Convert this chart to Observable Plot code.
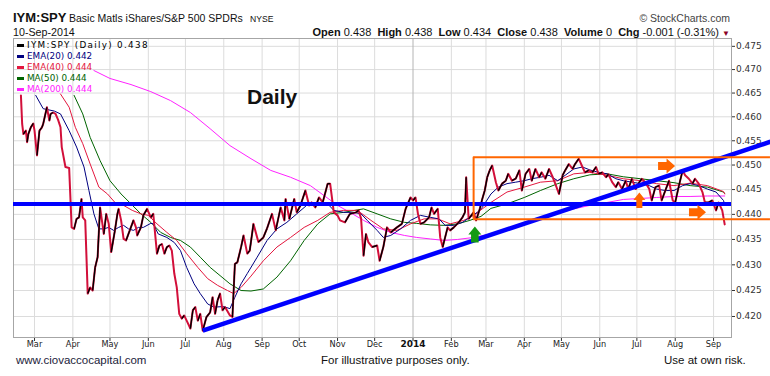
<!DOCTYPE html>
<html><head><meta charset="utf-8">
<script src="https://cdn.jsdelivr.net/npm/d3@7"></script>
<script src="https://cdn.jsdelivr.net/npm/@observablehq/plot@0.6"></script>
<style>
body{margin:0;background:#fff}
#wrap{position:relative;width:770px;height:376px;overflow:hidden;background:#fff}
#wrap svg{position:absolute;left:0;top:0;z-index:1}
.t{position:absolute;white-space:nowrap;line-height:1;font-family:"Liberation Sans",Arial,sans-serif;color:#111;z-index:2}
.lg{position:absolute;white-space:nowrap;line-height:1;font-family:"DejaVu Sans",sans-serif;font-size:8.8px;z-index:2}
.sw{position:absolute;width:7px;height:3px;z-index:2}
</style></head>
<body><div id="wrap"></div>
<script>
// ---------- data ----------
const xStart = "2013-02-12", xEnd = "2014-09-15T12:00:00Z";
const yDomain = [0.4160, 0.4767];
const yTicks = [0.420,0.425,0.430,0.435,0.440,0.445,0.450,0.455,0.460,0.465,0.470,0.475];
const monthTicks = ["2013-03-01","2013-04-01","2013-05-01","2013-06-01","2013-07-01","2013-08-01","2013-09-01","2013-10-01","2013-11-01","2013-12-01","2014-01-01","2014-02-01","2014-03-01","2014-04-01","2014-05-01","2014-06-01","2014-07-01","2014-08-01","2014-09-01"];
const monthLabels = ["Mar","Apr","May","Jun","Jul","Aug","Sep","Oct","Nov","Dec","2014","Feb","Mar","Apr","May","Jun","Jul","Aug","Sep"];

const price = [
["2013-02-18",.4645],["2013-02-19",.4585],["2013-02-20",.4564],["2013-02-22",.4571],["2013-02-23",.4547],["2013-02-24",.4564],["2013-02-26",.4578],["2013-02-28",.4586],["2013-03-01",.4571],["2013-03-03",.4520],["2013-03-05",.4571],["2013-03-07",.4578],["2013-03-08",.4585],["2013-03-11",.4620],["2013-03-13",.4592],["2013-03-14",.4606],["2013-03-16",.4609],["2013-03-18",.4606],["2013-03-20",.4594],["2013-03-22",.4578],["2013-03-23",.4537],["2013-03-26",.4496],["2013-03-29",.4494],["2013-03-30",.4434],["2013-03-31",.4374],
["2013-04-02",.4371],["2013-04-04",.4391],["2013-04-06",.4394],["2013-04-08",.4431],["2013-04-09",.4394],["2013-04-11",.4388],["2013-04-13",.4244],["2013-04-15",.4256],["2013-04-17",.4250],["2013-04-19",.4295],["2013-04-21",.4315],["2013-04-23",.4414],["2013-04-26",.4361],["2013-04-28",.4401],["2013-04-30",.4381],
["2013-05-02",.4325],["2013-05-05",.4368],["2013-05-07",.4401],["2013-05-08",.4411],["2013-05-10",.4388],["2013-05-12",.4351],["2013-05-14",.4348],["2013-05-17",.4368],["2013-05-20",.4388],["2013-05-22",.4374],["2013-05-23",.4358],["2013-05-26",.4374],["2013-05-28",.4398],["2013-05-31",.4411],
["2013-06-03",.4394],["2013-06-05",.4401],["2013-06-07",.4348],["2013-06-08",.4322],["2013-06-10",.4338],["2013-06-12",.4341],["2013-06-14",.4322],["2013-06-16",.4335],["2013-06-18",.4338],["2013-06-20",.4328],["2013-06-22",.4283],["2013-06-24",.4256],["2013-06-26",.4205],["2013-06-28",.4196],["2013-06-30",.4202],
["2013-07-02",.4192],["2013-07-05",.4177],["2013-07-07",.4212],["2013-07-09",.4218],["2013-07-11",.4192],["2013-07-13",.4205],["2013-07-15",.4173],["2013-07-18",.4199],["2013-07-21",.4208],["2013-07-23",.4237],["2013-07-25",.4205],["2013-07-27",.4231],["2013-07-29",.4244],["2013-07-31",.4212],
["2013-08-02",.4218],["2013-08-06",.4202],["2013-08-08",.4199],["2013-08-10",.4302],["2013-08-12",.4305],["2013-08-15",.4335],["2013-08-17",.4358],["2013-08-20",.4322],["2013-08-22",.4328],["2013-08-25",.4381],["2013-08-29",.4345],
["2013-09-02",.4354],["2013-09-05",.4372],["2013-09-09",.4401],["2013-09-12",.4368],["2013-09-16",.4414],["2013-09-19",.4388],["2013-09-20",.4431],["2013-09-23",.4391],["2013-09-27",.4431],["2013-09-29",.4404],
["2013-10-02",.4418],["2013-10-06",.4448],["2013-10-09",.4418],["2013-10-11",.4424],["2013-10-14",.4414],["2013-10-17",.4434],["2013-10-20",.4424],["2013-10-24",.4462],["2013-10-26",.4462],["2013-10-29",.4404],
["2013-11-01",.4398],["2013-11-03",.4388],["2013-11-07",.4384],["2013-11-11",.4401],["2013-11-16",.4404],["2013-11-18",.4408],["2013-11-20",.4392],["2013-11-22",.4318],["2013-11-24",.4361],["2013-11-26",.4344],["2013-11-29",.4335],
["2013-12-03",.4338],["2013-12-05",.4308],["2013-12-08",.4335],["2013-12-11",.4374],["2013-12-14",.4364],["2013-12-16",.4368],["2013-12-19",.4374],["2013-12-23",.4381],["2013-12-26",.4411],["2013-12-30",.4434],
["2014-01-01",.4428],["2014-01-03",.4434],["2014-01-05",.4401],["2014-01-07",.4381],["2014-01-10",.4384],["2014-01-14",.4394],["2014-01-16",.4414],["2014-01-18",.4401],["2014-01-21",.4411],["2014-01-23",.4354],["2014-01-25",.4335],["2014-01-29",.4374],["2014-01-31",.4368],
["2014-02-03",.4374],["2014-02-07",.4384],["2014-02-10",.4394],["2014-02-12",.4404],["2014-02-13",.4475],["2014-02-15",.4391],["2014-02-19",.4404],["2014-02-21",.4388],["2014-02-24",.4411],["2014-02-26",.4431],["2014-02-28",.4448],
["2014-03-02",.4475],["2014-03-04",.4489],["2014-03-06",.4499],["2014-03-09",.4465],["2014-03-11",.4448],["2014-03-14",.4462],["2014-03-17",.4468],["2014-03-19",.4482],["2014-03-22",.4468],["2014-03-25",.4472],["2014-03-28",.4489],["2014-03-30",.4448],
["2014-04-02",.4482],["2014-04-05",.4492],["2014-04-07",.4468],["2014-04-10",.4492],["2014-04-13",.4475],["2014-04-15",.4485],["2014-04-18",.4472],["2014-04-21",.4492],["2014-04-24",.4475],["2014-04-26",.4462],["2014-04-29",.4441],
["2014-05-02",.4479],["2014-05-04",.4489],["2014-05-07",.4502],["2014-05-10",.4492],["2014-05-12",.4502],["2014-05-15",.4513],["2014-05-18",.4496],["2014-05-20",.4485],["2014-05-23",.4489],["2014-05-26",.4485],["2014-05-29",.4496],["2014-05-31",.4482],
["2014-06-03",.4485],["2014-06-06",.4475],["2014-06-08",.4481],["2014-06-11",.4465],["2014-06-14",.4455],["2014-06-16",.4465],["2014-06-19",.4451],["2014-06-22",.4468],["2014-06-24",.4451],["2014-06-27",.4472],["2014-06-30",.4451],
["2014-07-03",.4465],["2014-07-05",.4472],["2014-07-08",.4464],["2014-07-11",.4451],["2014-07-13",.4428],["2014-07-16",.4455],["2014-07-19",.4458],["2014-07-21",.4428],["2014-07-24",.4448],["2014-07-27",.4468],["2014-07-30",.4428],
["2014-08-01",.4424],["2014-08-04",.4458],["2014-08-07",.4489],["2014-08-09",.4479],["2014-08-12",.4472],["2014-08-15",.4462],["2014-08-17",.4472],["2014-08-20",.4462],["2014-08-23",.4445],["2014-08-25",.4424],["2014-08-28",.4424],["2014-08-31",.4428],
["2014-09-03",.4408],["2014-09-05",.4424],["2014-09-08",.4408],["2014-09-10",.4380]
];

const ema20 = [
["2013-03-02",.4645],["2013-03-08",.4617],["2013-03-17",.4612],["2013-03-22",.4606],["2013-03-29",.4571],["2013-04-04",.4537],["2013-04-10",.4496],["2013-04-14",.4448],["2013-04-18",.4401],["2013-04-22",.4371],["2013-04-26",.4371],["2013-04-30",.4374],["2013-05-04",.4368],["2013-05-08",.4374],["2013-05-12",.4378],["2013-05-16",.4371],["2013-05-20",.4368],["2013-05-24",.4374],["2013-05-28",.4374],["2013-06-03",.4382],["2013-06-05",.4381],["2013-06-09",.4361],["2013-06-16",.4354],["2013-06-22",.4344],["2013-06-27",.4328],["2013-07-02",.4295],["2013-07-08",.4263],["2013-07-13",.4244],["2013-07-19",.4224],["2013-07-24",.4218],["2013-08-01",.4219],["2013-08-06",.4215],["2013-08-10",.4237],["2013-08-15",.4263],["2013-08-20",.4283],["2013-08-28",.4315],["2013-09-05",.4348],["2013-09-13",.4371],["2013-09-21",.4384],["2013-09-29",.4401],["2013-10-07",.4418],["2013-10-16",.4418],["2013-10-24",.4421],["2013-10-29",.4408],["2013-11-06",.4404],["2013-11-14",.4404],["2013-11-20",.4401],["2013-11-25",.4388],["2013-12-03",.4368],["2013-12-08",.4354],["2013-12-14",.4358],["2013-12-22",.4371],["2013-12-30",.4388],["2014-01-07",.4398],["2014-01-15",.4394],["2014-01-22",.4391],["2014-01-27",.4378],["2014-02-03",.4378],["2014-02-10",.4384],["2014-02-16",.4394],["2014-02-22",.4404],["2014-02-26",.4414],["2014-03-05",.4441],["2014-03-11",.4455],["2014-03-18",.4462],["2014-03-25",.4465],["2014-04-01",.4468],["2014-04-07",.4472],["2014-04-14",.4475],["2014-04-21",.4479],["2014-04-28",.4468],["2014-05-04",.4479],["2014-05-11",.4492],["2014-05-18",.4496],["2014-05-24",.4490],["2014-05-31",.4485],["2014-06-07",.4482],["2014-06-14",.4472],["2014-06-20",.4468],["2014-06-27",.4465],["2014-07-04",.4462],["2014-07-11",.4458],["2014-07-17",.4451],["2014-07-24",.4448],["2014-07-31",.4448],["2014-08-07",.4458],["2014-08-13",.4462],["2014-08-20",.4458],["2014-08-27",.4451],["2014-09-03",.4445],["2014-09-09",.4428],["2014-09-10",.4420]
];

const ema40 = [
["2013-03-22",.4648],["2013-03-29",.4620],["2013-04-03",.4578],["2013-04-09",.4544],["2013-04-15",.4502],["2013-04-22",.4455],["2013-04-29",.4441],["2013-05-05",.4424],["2013-05-12",.4418],["2013-05-19",.4408],["2013-05-26",.4401],["2013-06-01",.4398],["2013-06-08",.4381],["2013-06-16",.4364],["2013-06-24",.4348],["2013-07-02",.4322],["2013-07-11",.4295],["2013-07-19",.4273],["2013-07-27",.4260],["2013-08-04",.4250],["2013-08-09",.4244],["2013-08-15",.4256],["2013-08-23",.4278],["2013-09-02",.4308],["2013-09-13",.4335],["2013-09-24",.4354],["2013-10-05",.4374],["2013-10-16",.4388],["2013-10-26",.4404],["2013-11-06",.4408],["2013-11-17",.4408],["2013-11-28",.4388],["2013-12-08",.4371],["2013-12-19",.4368],["2013-12-30",.4381],["2014-01-10",.4391],["2014-01-21",.4391],["2014-01-31",.4381],["2014-02-11",.4388],["2014-02-19",.4398],["2014-03-05",.4424],["2014-03-18",.4445],["2014-04-01",.4455],["2014-04-14",.4465],["2014-04-28",.4468],["2014-05-11",.4482],["2014-05-24",.4485],["2014-06-07",.4479],["2014-06-20",.4472],["2014-07-04",.4468],["2014-07-17",.4462],["2014-07-31",.4458],["2014-08-13",.4463],["2014-08-27",.4458],["2014-09-09",.4446],["2014-09-10",.4441]
];

const ma50 = [
["2013-04-02",.4645],["2013-04-09",.4606],["2013-04-15",.4557],["2013-04-23",.4509],["2013-05-01",.4468],["2013-05-10",.4441],["2013-05-18",.4421],["2013-05-26",.4401],["2013-06-03",.4384],["2013-06-11",.4364],["2013-06-19",.4354],["2013-06-27",.4348],["2013-07-05",.4335],["2013-07-13",.4315],["2013-07-21",.4295],["2013-07-29",.4279],["2013-08-06",.4263],["2013-08-15",.4250],["2013-08-23",.4249],["2013-09-02",.4253],["2013-09-13",.4276],["2013-09-24",.4308],["2013-10-05",.4348],["2013-10-16",.4381],["2013-10-26",.4401],["2013-11-06",.4404],["2013-11-17",.4409],["2013-11-22",.4411],["2013-12-03",.4401],["2013-12-14",.4391],["2013-12-25",.4384],["2014-01-04",.4382],["2014-01-15",.4379],["2014-01-26",.4378],["2014-02-06",.4381],["2014-02-16",.4388],["2014-02-25",.4396],["2014-03-05",.4412],["2014-03-18",.4421],["2014-04-01",.4434],["2014-04-14",.4448],["2014-04-28",.4462],["2014-05-11",.4472],["2014-05-24",.4480],["2014-06-07",.4482],["2014-06-20",.4476],["2014-07-04",.4472],["2014-07-17",.4468],["2014-07-31",.4464],["2014-08-13",.4458],["2014-08-27",.4455],["2014-09-09",.4445],["2014-09-10",.4442]
];

const ma200 = [
["2013-04-18",.4698],["2013-05-01",.4681],["2013-05-18",.4668],["2013-06-03",.4653],["2013-06-19",.4634],["2013-07-05",.4609],["2013-07-21",.4575],["2013-08-06",.4540],["2013-08-23",.4513],["2013-09-08",.4489],["2013-09-24",.4475],["2013-10-10",.4458],["2013-10-21",.4438],["2013-11-01",.4418],["2013-11-11",.4404],["2013-11-22",.4388],["2013-12-03",.4374],["2013-12-14",.4364],["2013-12-25",.4358],["2014-01-04",.4354],["2014-01-15",.4351],["2014-01-26",.4348],["2014-02-06",.4350],["2014-02-19",.4354],["2014-03-05",.4361],["2014-03-18",.4371],["2014-04-01",.4381],["2014-04-14",.4393],["2014-04-28",.4402],["2014-05-11",.4411],["2014-05-24",.4418],["2014-06-07",.4424],["2014-06-20",.4430],["2014-07-04",.4432],["2014-07-17",.4434],["2014-07-31",.4436],["2014-08-13",.4436],["2014-08-27",.4437],["2014-09-10",.4437]
];

const supportLevel = 0.4421;
const trendDates = ["2013-07-15","2014-10-17"];
const trendValues = [0.4173, 0.4548];
const boxDates = ["2014-02-19","2014-10-17"];
const boxValues = [0.4390, 0.4516];
const arrowDates = ["2014-02-20","2014-07-03","2014-07-25","2014-08-19"];
const arrowValues = [0.4360, 0.4429, 0.4498, 0.4404];
const arrowKinds = ["greenUp","up","right","right"];

const legendLabels = ["IYM:SPY (Daily) 0.438","EMA(20) 0.442","EMA(40) 0.444","MA(50) 0.444","MA(200) 0.444"];
const legendColors = ["#000000","#000080","#e3173e","#006400","#ff22ff"];

// ---------- build ----------
const rows = a => a.map(([d, v]) => ({date: new Date(d), value: v}));
const P = rows(price);
const upSegs = [];
for (let i = 1; i < P.length; i++) {
  if (P[i].value >= P[i-1].value) upSegs.push({x1: P[i-1].date, y1: P[i-1].value, x2: P[i].date, y2: P[i].value});
}
const trend = trendDates.map((d, i) => ({date: new Date(d), value: trendValues[i]}));
const boxH = boxValues.map(v => ({y: v, x1: new Date(boxDates[0]), x2: new Date(boxDates[1])}));
const boxV = [{x: new Date(boxDates[0]), y1: boxValues[0], y2: boxValues[1]}];
const arrows = arrowDates.map((d, i) => ({date: new Date(d), value: arrowValues[i], kind: arrowKinds[i]}));
const ticksRows = monthTicks.map((d, i) => ({date: new Date(d), label: monthLabels[i]}));

const rightArrow = {draw(c){c.moveTo(-8.5,-4);c.lineTo(0,-4);c.lineTo(0,-7.5);c.lineTo(8.5,0);c.lineTo(0,7.5);c.lineTo(0,4);c.lineTo(-8.5,4);c.closePath();}};
const upArrow = {draw(c){c.moveTo(-3,8);c.lineTo(-3,0);c.lineTo(-6,0);c.lineTo(0,-7.5);c.lineTo(6,0);c.lineTo(3,0);c.lineTo(3,8);c.closePath();}};
const greenArrow = {draw(c){c.moveTo(-3.8,8);c.lineTo(-3.8,0);c.lineTo(-6.5,0);c.lineTo(0,-8);c.lineTo(6.5,0);c.lineTo(3.8,0);c.lineTo(3.8,8);c.closePath();}};

const orange = "#ff6600";
const chart = Plot.plot({
  width: 770, height: 376,
  marginLeft: 13, marginRight: 39, marginTop: 38, marginBottom: 39,
  style: {fontFamily: "DejaVu Sans, sans-serif", fontSize: "9px", color: "#333", background: "transparent"},
  x: {type: "utc", domain: [new Date(xStart), new Date(xEnd)], ticks: monthTicks.map(d => new Date(d)), tickFormat: () => "", tickSize: 4, label: null},
  y: {type: "log", domain: yDomain, axis: "right", ticks: yTicks, tickFormat: d3.format(".3f"), tickSize: 3, tickPadding: 1.5, label: null},
  marks: [
    Plot.ruleY(yTicks, {stroke: "#dcdcdc"}),
    Plot.ruleX(ticksRows, {x: "date", stroke: d => d.label === "2014" ? "#b4b4b4" : "#dcdcdc"}),
    Plot.frame({stroke: "#a6a6a6"}),
    Plot.line(rows(ma200), {x: "date", y: "value", stroke: "#ff22ff", strokeWidth: 1}),
    Plot.line(rows(ma50), {x: "date", y: "value", stroke: "#006400", strokeWidth: 1}),
    Plot.line(rows(ema40), {x: "date", y: "value", stroke: "#e3173e", strokeWidth: 1}),
    Plot.line(rows(ema20), {x: "date", y: "value", stroke: "#000080", strokeWidth: 1}),
    Plot.line(P, {x: "date", y: "value", stroke: "#d20f3a", strokeWidth: 2}),
    Plot.link(upSegs, {x1: "x1", y1: "y1", x2: "x2", y2: "y2", stroke: "#000", strokeWidth: 1.4}),
    Plot.ruleY([supportLevel], {stroke: "#0000ff", strokeWidth: 4}),
    Plot.line(trend, {x: "date", y: "value", stroke: "#0000ff", strokeWidth: 4.5, strokeLinecap: "butt"}),
    Plot.ruleY(boxH, {y: "y", x1: "x1", x2: "x2", stroke: orange, strokeWidth: 2}),
    Plot.ruleX(boxV, {x: "x", y1: "y1", y2: "y2", stroke: orange, strokeWidth: 2}),
    Plot.dot(arrows.filter(d => d.kind === "right"), {x: "date", y: "value", symbol: rightArrow, fill: orange}),
    Plot.dot(arrows.filter(d => d.kind === "up"), {x: "date", y: "value", symbol: upArrow, fill: orange}),
    Plot.dot(arrows.filter(d => d.kind === "greenUp"), {x: "date", y: "value", symbol: greenArrow, fill: "#139a13"}),
    Plot.text(ticksRows.filter(d => d.label !== "2014"), {x: "date", text: "label", frameAnchor: "bottom", dy: 9, fontSize: 8.2, fill: "#222"}),
    Plot.text(ticksRows.filter(d => d.label === "2014"), {x: "date", text: "label", frameAnchor: "bottom", dy: 9, fontSize: 9, fontWeight: "bold", fill: "#111"})
  ]
});
const wrap = document.getElementById("wrap");
wrap.appendChild(chart);

function addText(html, style, cls = "t") {
  const el = document.createElement("div");
  el.className = cls;
  el.innerHTML = html;
  Object.assign(el.style, style);
  wrap.appendChild(el);
  return el;
}
// header
addText("IYM:SPY", {left: "13px", top: "11px", fontSize: "13px", fontWeight: "bold"});
addText("Basic Matls iShares/S&amp;P 500 SPDRs", {left: "69px", top: "13.2px", fontSize: "10.5px"});
addText("NYSE", {left: "250px", top: "14.6px", fontSize: "8.6px"});
addText("10-Sep-2014", {left: "13px", top: "27px", fontSize: "10.7px"});
addText("&copy; StockCharts.com", {right: "40px", top: "13.2px", fontSize: "10.5px", color: "#444"});
addText("<b>Open</b> 0.438&nbsp; <b>High</b> 0.438&nbsp; <b>Low</b> 0.434&nbsp; <b>Close</b> 0.438&nbsp; <b>Volume</b> 0&nbsp; <b>Chg</b> -0.001 (-0.31%) <span style='color:#8b0025;font-size:8px'>&#9660;</span>", {right: "40px", top: "26.8px", fontSize: "11px"});
// legend
legendLabels.forEach((lab, i) => {
  const cy = 45 + 11 * i;
  const sw = document.createElement("div");
  sw.className = "sw";
  Object.assign(sw.style, {left: "17px", top: (cy - 1.5) + "px", background: legendColors[i]});
  wrap.appendChild(sw);
  addText(lab, {left: "27px", top: (cy - 4.3) + "px", color: legendColors[i], letterSpacing: i === 0 ? "1.3px" : "0px"}, "lg");
});
// in-chart label
addText("Daily", {left: "247px", top: "85.5px", fontSize: "21px", fontWeight: "bold"});
// footer
addText("www.ciovaccocapital.com", {left: "16px", top: "355.3px", fontSize: "11.5px", color: "#1c1c3a"});
addText("For illustrative purposes only.", {left: "321px", top: "355.3px", fontSize: "11.5px"});
addText("Use at own risk.", {left: "664px", top: "355.3px", fontSize: "11.5px"});
</script>
</body></html>
